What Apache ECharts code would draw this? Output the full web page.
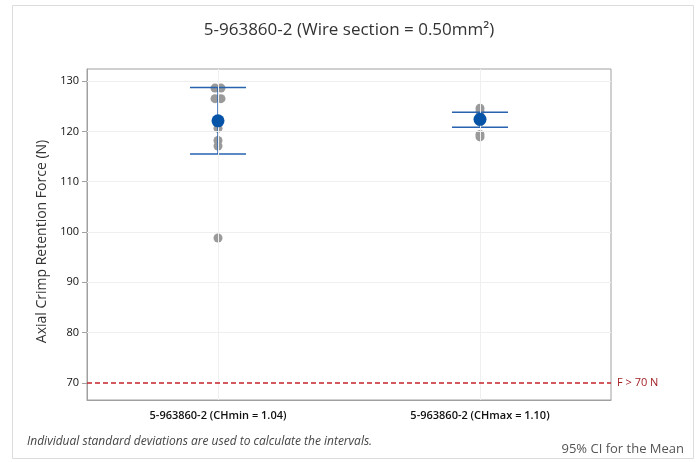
<!DOCTYPE html>
<html>
<head>
<meta charset="utf-8">
<script src="https://cdn.jsdelivr.net/npm/echarts@6/dist/echarts.min.js"></script>
<style>
  html, body { margin: 0; padding: 0; background: #fff; }
  #chart { width: 698px; height: 462px; }
</style>
</head>
<body>
<div id="chart"></div>
<script>
// 数据
const categories = ['5-963860-2 (CHmin = 1.04)', '5-963860-2 (CHmax = 1.10)'];
const pointsMin = [128.6, 128.6, 126.5, 126.5, 120.6, 118.2, 117.1, 98.8];
const pointsMax = [124.6, 123.9, 121.9, 119.4, 118.9];
const means = [122.1, 122.4];
const ciLow = [115.5, 120.8];
const ciHigh = [128.7, 123.8];
const yTicks = [70, 80, 90, 100, 110, 120, 130];
const limitValue = 70;

// jitter (px), style only
const jitterMin = [-3, 3, -3, 3, 0, 0, 0, 0];
const jitterMax = [0, 0, 0, 0, 0];

const blue = '#0554a8';
const grey = '#9a9a9a';
const red = '#c4232a';

let myChart = echarts.init(document.getElementById('chart'));

function pts(catIdx, values, jitter) {
  return values.map((v, i) => ({
    value: [catIdx, v],
    symbolOffset: [jitter[i], 0]
  }));
}

let option = {
  animation: false,
  textStyle: { fontFamily: 'Open Sans' },
  title: {
    text: '5-963860-2 (Wire section = 0.50mm²)',
    left: 'center',
    top: 17,
    textStyle: { fontSize: 17, fontWeight: 500, color: '#333', fontFamily: 'Open Sans' }
  },
  graphic: [
    {
      type: 'rect',
      shape: { x: 12.5, y: 5.5, width: 681, height: 453 },
      style: { fill: 'none', stroke: '#dcdcdc', lineWidth: 1 },
      silent: true
    },
    {
      type: 'text',
      left: 27,
      top: 436,
      style: {
        text: 'Individual standard deviations are used to calculate the intervals.',
        fontSize: 12,
        fontStyle: 'italic',
        fill: '#444',
        fontFamily: 'Open Sans'
      }
    },
    {
      type: 'text',
      right: 14,
      top: 443,
      style: { text: '95% CI for the Mean', fontSize: 13, fill: '#555', fontFamily: 'Open Sans' }
    }
  ],
  grid: {
    left: 87,
    right: 87,
    top: 69,
    bottom: 62,
    show: true,
    borderColor: '#a0a0a0',
    borderWidth: 1
  },
  xAxis: {
    type: 'category',
    data: categories,
    axisLine: { lineStyle: { color: '#a0a0a0' } },
    axisTick: { alignWithLabel: true, length: 5, lineStyle: { color: '#a0a0a0' } },
    axisLabel: { fontSize: 11, color: '#111', margin: 10, fontWeight: 600 },
    splitLine: { show: false }
  },
  yAxis: {
    type: 'value',
    min: 66.6,
    max: 132.4,
    name: 'Axial Crimp Retention Force (N)',
    nameLocation: 'middle',
    nameGap: 33,
    nameTextStyle: { fontSize: 14, color: '#333', padding: [0, 0, 0, -14] },
    axisLine: { show: true, lineStyle: { color: '#a0a0a0' } },
    axisTick: { show: true, length: 5, customValues: yTicks, lineStyle: { color: '#a0a0a0' } },
    axisLabel: { fontSize: 11, color: '#111', fontWeight: 500, customValues: yTicks },
    splitLine: { show: false }
  },
  series: [
    {
      // grid lines (the 70 line is covered by the limit line)
      type: 'line',
      data: [],
      silent: true,
      markLine: {
        silent: true,
        symbol: 'none',
        label: { show: false },
        lineStyle: { type: 'solid', color: '#efefef', width: 1 },
        data: yTicks.filter(v => v !== limitValue).map(v => ({ yAxis: v }))
          .concat(categories.map(c => ({ xAxis: c })))
      }
    },
    {
      // limit line F > 70 N
      type: 'custom',
      data: [[0, limitValue]],
      encode: { x: 0, y: 1 },
      silent: true,
      clip: false,
      z: 10,
      renderItem: function (params, api) {
        const cs = params.coordSys;
        const y = Math.round(api.coord([0, api.value(1)])[1]);
        return {
          type: 'group',
          children: [
            {
              type: 'line',
              shape: { x1: cs.x, y1: y, x2: cs.x + cs.width, y2: y },
              style: { stroke: red, lineWidth: 1.4, lineDash: [5, 3] }
            },
            {
              type: 'text',
              x: cs.x + cs.width + 6,
              y: y,
              style: {
                text: 'F > 70 N',
                fill: '#a31f24',
                fontSize: 11,
                fontFamily: 'Open Sans',
                verticalAlign: 'middle'
              }
            }
          ]
        };
      }
    },
    {
      name: 'points',
      type: 'scatter',
      symbolSize: 9,
      itemStyle: { color: grey, opacity: 1 },
      data: pts(0, pointsMin, jitterMin).concat(pts(1, pointsMax, jitterMax))
    },
    {
      name: 'ci',
      type: 'custom',
      data: categories.map((c, i) => [i, ciLow[i], ciHigh[i]]),
      encode: { x: 0, y: [1, 2] },
      z: 3,
      renderItem: function (params, api) {
        const lo = api.coord([api.value(0), api.value(1)]);
        const hi = api.coord([api.value(0), api.value(2)]);
        const hw = 28;
        const st = { stroke: '#2763ae', lineWidth: 1.5 };
        return {
          type: 'group',
          children: [
            { type: 'line', shape: { x1: lo[0], y1: lo[1], x2: hi[0], y2: hi[1] }, style: st },
            { type: 'line', shape: { x1: hi[0] - hw, y1: hi[1], x2: hi[0] + hw, y2: hi[1] }, style: st },
            { type: 'line', shape: { x1: lo[0] - hw, y1: lo[1], x2: lo[0] + hw, y2: lo[1] }, style: st }
          ]
        };
      }
    },
    {
      name: 'mean',
      type: 'scatter',
      symbolSize: 13,
      itemStyle: { color: blue, opacity: 1 },
      z: 5,
      data: means.map((m, i) => [i, m])
    }
  ]
};
myChart.setOption(option);
</script>
</body>
</html>
